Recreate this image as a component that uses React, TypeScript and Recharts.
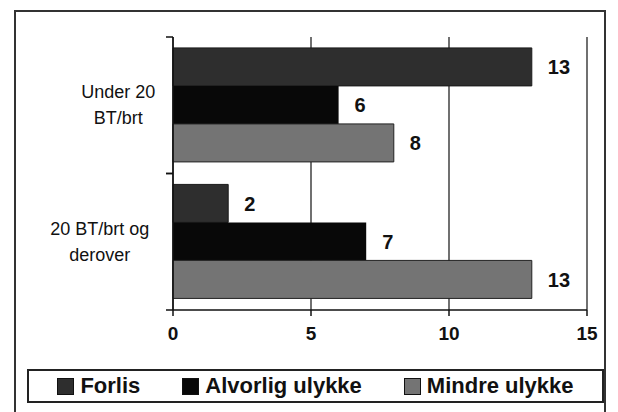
import React from "react";
import {
  Bar,
  BarChart,
  CartesianGrid,
  LabelList,
  Legend,
  XAxis,
  YAxis,
} from "recharts";

const categories = ["Under 20\nBT/brt", "20 BT/brt og\nderover"];
const seriesNames = ["Forlis", "Alvorlig ulykke", "Mindre ulykke"];
const forlis = [13, 2];
const alvorlig = [6, 7];
const mindre = [8, 13];
const xTicks = [0, 5, 10, 15];

const FONT = "'Liberation Sans', Arial, sans-serif";

const data = categories.map((c, i) => ({
  cat: c,
  forlis: forlis[i],
  alvorlig: alvorlig[i],
  mindre: mindre[i],
}));

// category label plus the small tick marks at the band edges
function CatTick({ x, y, payload }: any) {
  const lines = String(payload.value).split("\n");
  const longest = Math.max(...lines.map((l) => l.length));
  const cx = x - 18 - longest * 4.6;
  const half = payload.offset || 0;
  return (
    <g>
      <line x1={x - 7} x2={x} y1={y - half} y2={y - half} stroke="#111" strokeWidth={1.5} />
      <line x1={x - 7} x2={x} y1={y + half} y2={y + half} stroke="#111" strokeWidth={1.5} />
      <text x={cx} y={y} textAnchor="middle" fontSize={18} fill="#111" fontFamily={FONT}>
        {lines.map((l, i) => (
          <tspan key={i} x={cx} dy={i === 0 ? -(lines.length - 1) * 13 + 6 : 26}>
            {l}
          </tspan>
        ))}
      </text>
    </g>
  );
}

function LegendBox({ payload }: any) {
  const items = [...(payload || [])].sort(
    (a: any, b: any) => seriesNames.indexOf(a.value) - seriesNames.indexOf(b.value)
  );
  return (
    <div
      style={{
        display: "flex",
        justifyContent: "center",
        alignItems: "center",
        gap: 42,
        height: "100%",
        border: "2px solid #222",
        boxSizing: "border-box",
        fontFamily: FONT,
      }}
    >
      {items.map((item: any) => (
        <span key={item.value} style={{ display: "flex", alignItems: "center", gap: 6 }}>
          <span
            style={{
              display: "inline-block",
              width: 15,
              height: 15,
              background: item.color,
              border: "1px solid #111",
            }}
          />
          <span style={{ fontWeight: 700, fontSize: 22, color: "#111" }}>{item.value}</span>
        </span>
      ))}
    </div>
  );
}

const labelStyle = { fill: "#111", fontSize: 20, fontWeight: 700, fontFamily: FONT };

export default function App() {
  return (
    <div style={{ position: "fixed", left: 0, top: 0, width: 618, height: 412, background: "#fff", overflow: "hidden" }}>
      <div
        style={{
          position: "absolute",
          left: 14,
          top: 10,
          width: 592,
          height: 420,
          border: "2px solid #333",
          boxSizing: "border-box",
        }}
      />
      <BarChart
        width={618}
        height={412}
        data={data}
        layout="vertical"
        margin={{ top: 37, right: 31, bottom: 38, left: 33 }}
        barCategoryGap="8%"
        barGap={0}
        style={{ position: "absolute", left: 0, top: 0 }}
      >
        <CartesianGrid horizontal={false} stroke="#111" strokeWidth={1.2} />
        <XAxis
          type="number"
          domain={[0, 15]}
          ticks={xTicks}
          tickSize={6}
          tickMargin={11}
          height={30}
          axisLine={{ stroke: "#111", strokeWidth: 1.5 }}
          tickLine={{ stroke: "#111", strokeWidth: 1.5 }}
          tick={{ fill: "#111", fontSize: 19, fontWeight: 700, fontFamily: FONT }}
        />
        <YAxis
          type="category"
          dataKey="cat"
          width={140}
          tickSize={0}
          tickMargin={0}
          tick={<CatTick />}
          axisLine={{ stroke: "#111", strokeWidth: 1.5 }}
          tickLine={false}
          interval={0}
        />
        <Legend
          verticalAlign="bottom"
          content={<LegendBox />}
          wrapperStyle={{ position: "absolute", left: 27, top: 369, width: 577, height: 34 }}
        />
        <Bar dataKey="forlis" name="Forlis" fill="#2e2e2e" stroke="#1a1a1a" isAnimationActive={false}>
          <LabelList dataKey="forlis" position="right" offset={16} style={labelStyle} />
        </Bar>
        <Bar dataKey="alvorlig" name="Alvorlig ulykke" fill="#080808" isAnimationActive={false}>
          <LabelList dataKey="alvorlig" position="right" offset={16} style={labelStyle} />
        </Bar>
        <Bar dataKey="mindre" name="Mindre ulykke" fill="#747474" stroke="#222" isAnimationActive={false}>
          <LabelList dataKey="mindre" position="right" offset={16} style={labelStyle} />
        </Bar>
      </BarChart>
    </div>
  );
}
